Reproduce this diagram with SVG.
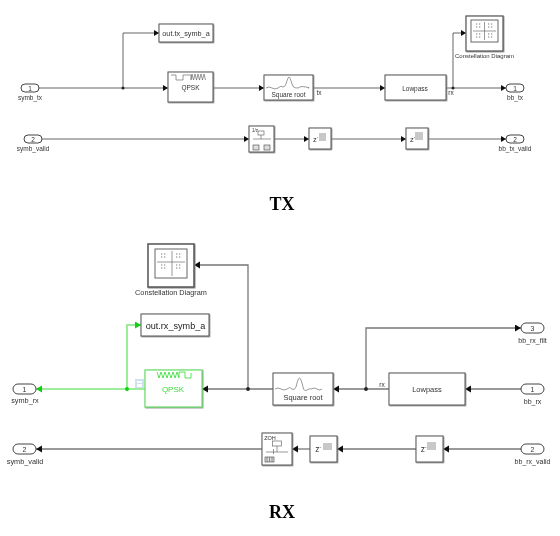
<svg xmlns="http://www.w3.org/2000/svg" width="560" height="536" viewBox="0 0 560 536">
<style>
text{font-family:"Liberation Sans",Arial,sans-serif;fill:#333;text-anchor:middle}
.s{font-size:6.5px}.m{font-size:7px}.l{font-size:8.5px}.t{font-family:"Liberation Serif","Times New Roman",serif;font-size:18px;font-weight:bold;fill:#000}
.b{fill:#fff;stroke:#555;stroke-width:1;filter:url(#sh)}
.p{fill:#fff;stroke:#444;stroke-width:1}
.c{fill:none;stroke:#555;stroke-width:.9}
.r{fill:none;stroke:#777;stroke-width:1.300}
.g{fill:none;stroke:#7be87b;stroke-width:1.500}
.i{fill:none;stroke:#555;stroke-width:.6}
.ig{fill:none;stroke:#2fdc2f;stroke-width:.8}
.gr{fill:#c8c8c8;stroke:none}
.d{fill:#222;stroke:none}
.sup{font-size:4.500px}
</style>
<defs>
<filter id="sh" x="-15%" y="-15%" width="130%" height="130%"><feDropShadow dx="0.7" dy="0.7" stdDeviation="0.5" flood-color="#888"/></filter>
<filter id="soft"><feGaussianBlur stdDeviation="0.3"/></filter>
<marker id="a" markerWidth="6" markerHeight="6" refX="5" refY="3" orient="auto" markerUnits="userSpaceOnUse"><path d="M0 0L5 3L0 6Z" fill="#111"/></marker>
<marker id="ar" markerWidth="7" markerHeight="8" refX="6" refY="3.500" orient="auto" markerUnits="userSpaceOnUse"><path d="M0 0L6 3.500L0 7Z" fill="#111"/></marker>
<marker id="ag" markerWidth="7" markerHeight="8" refX="6" refY="3.500" orient="auto" markerUnits="userSpaceOnUse"><path d="M0 0L6 3.500L0 7Z" fill="#10d010"/></marker>
<g id="cons1"><path d="M0 0h1.300M3 0h1.300M0 3h1.300M3 3h1.300" stroke="#555" stroke-width=".8" fill="none"/></g>
</defs>
<g filter="url(#soft)">
<g id="connectors">
<path class="c" marker-end="url(#a)" d="M39 88H168"/>
<path class="c" marker-end="url(#a)" d="M123 88V33H159"/>
<path class="c" marker-end="url(#a)" d="M213 88H264"/>
<path class="c" marker-end="url(#a)" d="M313 88H385"/>
<path class="c" marker-end="url(#a)" d="M446 88H506"/>
<path class="c" marker-end="url(#a)" d="M453 88V33H466"/>
<path class="c" marker-end="url(#a)" d="M42 139H249"/>
<path class="c" marker-end="url(#a)" d="M274 139H309"/>
<path class="c" marker-end="url(#a)" d="M331 139H406"/>
<path class="c" marker-end="url(#a)" d="M428 139H506"/>
<circle class="d" cx="123" cy="88" r="1.500"/><circle class="d" cx="453" cy="88" r="1.500"/>
<path class="r" marker-end="url(#ar)" d="M273 389H202"/>
<path class="r" marker-end="url(#ar)" d="M248 389V265H194"/>
<path class="r" marker-end="url(#ar)" d="M389 389H333"/>
<path class="r" marker-end="url(#ar)" d="M366 389V328H521"/>
<path class="r" marker-end="url(#ar)" d="M521 389H465"/>
<path class="r" marker-end="url(#ar)" d="M521 449H443"/>
<path class="r" marker-end="url(#ar)" d="M416 449H337"/>
<path class="r" marker-end="url(#ar)" d="M310 449H292"/>
<path class="r" marker-end="url(#ar)" d="M262 449H36"/>
<circle class="d" cx="248" cy="389" r="1.900"/><circle class="d" cx="366" cy="389" r="1.900"/>
<path class="g" marker-end="url(#ag)" d="M145 389H36"/>
<path class="g" marker-end="url(#ag)" d="M127 389V325H141"/>
<circle cx="127" cy="389" r="2" fill="#10d010"/>
</g>

<g id="tx-in1"><rect class="p" x="21" y="84" width="18" height="8" rx="4"/><text class="s" x="30" y="90.500">1</text><text class="s" x="30" y="99.500">symb_tx</text></g>
<g id="tx-in2"><rect class="p" x="24" y="135" width="18" height="8" rx="4"/><text class="s" x="33" y="141.500">2</text><text class="s" x="33" y="150.500">symb_valid</text></g>
<g id="tx-out"><rect class="b" x="159" y="24" width="54" height="18"/><text x="186" y="35.500" style="font-size:7.300px">out.tx_symb_a</text></g>
<g id="tx-qpsk"><rect class="b" x="168" y="72" width="45" height="30"/>
<path class="i" d="M171 75h5v5h7v-5h8v5M191 80l1-6 1.500 6 1.500-6 1.500 6 1.500-6 1.500 6 1.500-6 1.500 6 1.500-6 1.500 6"/>
<text class="s" x="190.500" y="90">QPSK</text></g>
<g id="tx-sqrt"><rect class="b" x="264" y="75" width="49" height="25"/>
<path class="i" d="M266 88q3-2 6 0t6 0q3-3 5-1 2 0 3-3 2-7 3-7t3 7q1 4 4 4t4-1 6 0 2 1"/>
<text class="s" x="288.500" y="97">Square root</text></g>
<text class="s" x="319" y="94.500" id="tx-label">tx</text>
<g id="tx-lowpass"><rect class="b" x="385" y="75" width="61" height="25"/><text class="s" x="415" y="90.500">Lowpass</text></g>
<text class="s" x="451" y="94.500" id="rx-label-tx">rx</text>
<g id="tx-const"><rect x="466" y="16" width="37" height="35" fill="#fff" stroke="#555" stroke-width="1.200" filter="url(#sh)"/><rect x="471" y="20" width="27" height="22" fill="#fff" stroke="#666" stroke-width="1"/>
<path class="i" d="M473 31h23M484.500 22v18"/>
<use href="#cons1" x="476" y="24"/><use href="#cons1" x="488" y="24"/><use href="#cons1" x="476" y="34"/><use href="#cons1" x="488" y="34"/>
<text x="484.500" y="57.500" style="font-size:6px">Constellation Diagram</text></g>
<g id="tx-bbout"><rect class="p" x="506" y="84" width="18" height="8" rx="4"/><text class="s" x="515" y="90.500">1</text><text class="s" x="515" y="99.500">bb_tx</text></g>
<g id="tx-hold"><rect class="b" x="249" y="126" width="25" height="26"/>
<text x="255" y="132" style="font-size:4.500px">1/z</text><rect x="258" y="131" width="6" height="4" class="i"/><path class="i" d="M253 139h18M261 135v4"/>
<rect x="253" y="145" width="6" height="5" fill="#ddd" stroke="#444" stroke-width=".6"/><rect x="264" y="145" width="6" height="5" fill="#ddd" stroke="#444" stroke-width=".6"/></g>
<g id="tx-z1"><rect class="b" x="309" y="128" width="22" height="21"/><text x="315.500" y="141.500" style="font-size:7.500px">z<tspan class="sup" dy="-2.500">-</tspan></text><rect class="gr" x="319" y="133" width="7" height="8"/></g>
<g id="tx-z2"><rect class="b" x="406" y="128" width="22" height="21"/><text x="412.500" y="141.500" style="font-size:7.500px">z<tspan class="sup" dy="-2.500">-</tspan></text><rect class="gr" x="415" y="132" width="8" height="8"/></g>
<g id="tx-validout"><rect class="p" x="506" y="135" width="18" height="8" rx="4"/><text class="s" x="515" y="141.500">2</text><text class="s" x="515" y="150.500">bb_tx_valid</text></g>
<text class="t" x="282" y="209.500" id="tx-title">TX</text>

<g id="rx-const"><rect x="148" y="244" width="46" height="43" fill="#fff" stroke="#555" stroke-width="1.500" filter="url(#sh)"/><rect x="155" y="249" width="32" height="29" fill="#fff" stroke="#666" stroke-width="1"/>
<path class="i" d="M157 262h28M172 251v25"/>
<use href="#cons1" x="161" y="254"/><use href="#cons1" x="176" y="254"/><use href="#cons1" x="161" y="265"/><use href="#cons1" x="176" y="265"/>
<text x="171" y="295" style="font-size:7.300px">Constellation Diagram</text></g>
<g id="rx-out"><rect class="b" x="141" y="314" width="68" height="22"/><text x="175.500" y="328.500" style="font-size:9.100px;fill:#222">out.rx_symb_a</text></g>
<g id="rx-icon"><rect x="135" y="379" width="9" height="9" fill="#cfe0f2"/><rect x="137" y="381" width="5" height="2" fill="#fff"/><rect x="137" y="384" width="5" height="3" fill="#fff"/></g>
<g id="rx-qpsk"><rect x="145" y="370" width="57" height="37" fill="#fff" stroke="#68e068" stroke-width="1.200" filter="url(#sh)"/>
<path class="ig" d="M157 372l2 6 2-6 2 6 2-6 2 6 2-6 2 6 2-6 2 6 2-6 2 6v-6h6v6h6v-5"/>
<text x="173" y="392" style="font-size:8px;fill:#3ddc3d">QPSK</text></g>
<g id="rx-in1"><rect class="p" x="13" y="384" width="23" height="10" rx="5"/><text class="m" x="24.500" y="391.500">1</text><text x="25" y="403" style="font-size:7.300px">symb_rx</text></g>
<g id="rx-sqrt"><rect class="b" x="273" y="373" width="60" height="32"/>
<path class="i" d="M275 389q3-2 6 0t6 0q3-3 5 0 2 2 4-2 2-9 3.500-9t3.500 9q1 5 4 3t4-1q3-2 6 0t5 0"/>
<text x="303" y="399.500" style="font-size:7.500px">Square root</text></g>
<text class="s" x="382" y="386.500">rx</text>
<g id="rx-lowpass"><rect class="b" x="389" y="373" width="76" height="32"/><text x="427" y="392" style="font-size:7.500px">Lowpass</text></g>
<g id="rx-filt"><rect class="p" x="521" y="323" width="23" height="10" rx="5"/><text class="m" x="532.500" y="331">3</text><text class="m" x="532.500" y="343">bb_rx_filt</text></g>
<g id="rx-bb"><rect class="p" x="521" y="384" width="23" height="10" rx="5"/><text class="m" x="532.500" y="392">1</text><text class="m" x="532.500" y="403.500">bb_rx</text></g>
<g id="rx-valid"><rect class="p" x="521" y="444" width="23" height="10" rx="5"/><text class="m" x="532.500" y="452">2</text><text class="m" x="532.500" y="463.500">bb_rx_valid</text></g>
<g id="rx-z2"><rect class="b" x="416" y="436" width="27" height="26"/><text x="423.500" y="452" style="font-size:8.500px">z<tspan class="sup" dy="-3">-</tspan></text><rect class="gr" x="427" y="442" width="9" height="8"/></g>
<g id="rx-z1"><rect class="b" x="310" y="436" width="27" height="26"/><text x="318" y="452" style="font-size:8.500px">z<tspan class="sup" dy="-3">-</tspan></text><rect class="gr" x="323" y="443" width="9" height="7"/></g>
<g id="rx-zoh"><rect class="b" x="262" y="433" width="30" height="32"/>
<text x="270" y="440" style="font-size:5.500px">ZOH</text><rect x="272.500" y="441" width="9" height="5" class="i"/><path class="i" d="M266 452h22M273.500 449v5M277 446v6"/>
<rect x="265" y="457" width="9" height="5" fill="#ddd" stroke="#444" stroke-width=".6"/><path class="i" d="M267 457v5M269.500 457v5M272 457v5"/></g>
<g id="rx-validout"><rect class="p" x="13" y="444" width="23" height="10" rx="5"/><text class="m" x="24.500" y="452">2</text><text x="25" y="463.500" style="font-size:7.300px">symb_valid</text></g>
<text class="t" x="282" y="517.500" id="rx-title">RX</text>
</g>
</svg>
